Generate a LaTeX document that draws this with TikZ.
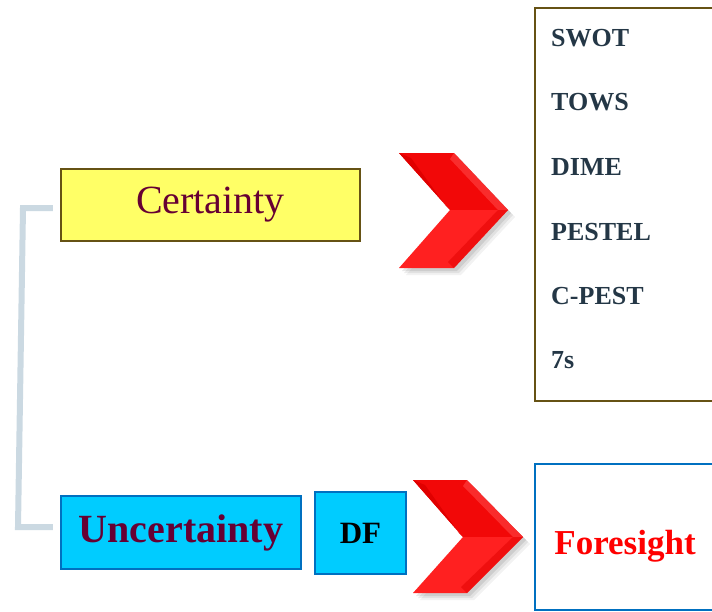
\documentclass[tikz,border=0pt]{standalone}
\usepackage{fontspec}
\setmainfont{Liberation Serif}
\begin{document}
\begin{tikzpicture}[x=1pt,y=-1pt,
  box/.style={draw,rectangle,inner sep=0pt,line width=2.2pt},
  listitem/.style={anchor=west,inner sep=0pt,text=slate,font=\fontsize{26}{30}\selectfont\bfseries},
  bracket/.style={draw=bracketgray,line width=6pt,line join=miter}]
\definecolor{maroon}{HTML}{660033}
\definecolor{slate}{HTML}{243746}
\definecolor{boxbrown}{HTML}{665214}
\definecolor{boxblue}{HTML}{0070C0}
\definecolor{cyanfill}{HTML}{00CCFF}
\definecolor{yellowfill}{HTML}{FFFF66}
\definecolor{bracketgray}{HTML}{CBD9E2}
\definecolor{chevdark}{HTML}{E00000}
\definecolor{chevmid}{HTML}{F20808}
\definecolor{chevlight}{HTML}{FF2020}
\definecolor{chevhigh}{HTML}{FF4545}

\useasboundingbox (0,0) rectangle (712,611);
\clip (0,0) rectangle (712,611);

% left-hand choice boxes
\node[box,draw=boxbrown,fill=yellowfill,minimum width=299,minimum height=72,
      text=maroon,font=\fontsize{40}{46}\selectfont] (cert) at (210.5,205) {Certainty};
\node[box,draw=boxblue,fill=cyanfill,minimum width=240,minimum height=73,
      text=maroon,font=\fontsize{40}{46}\selectfont\bfseries] (unc) at (181,532.5) {Uncertainty};
\node[box,draw=boxblue,fill=cyanfill,minimum width=91,minimum height=82,
      font=\fontsize{31}{36}\selectfont\bfseries] (df) at (360.5,533) {DF};

% bracket joining the two choices
\coordinate (bt) at (23,208);
\coordinate (bb) at (18,527);
\draw[bracket] ([xshift=-7pt]cert.west |- bt) -- (bt) -- (bb) -- ([xshift=-7pt]unc.west |- bb);

% list of tools
\node[box,draw=boxbrown,line width=1.8pt,minimum width=200,minimum height=393] (tools) at (635,204.5) {};
\node[listitem] (swot)  at (551,38)  {SWOT};
\node[listitem] (tows)  at (551,102) {TOWS};
\node[listitem] (dime)  at (551,167) {DIME};
\node[listitem] (pestel) at (551,232) {PESTEL};
\node[listitem] (cpest) at (551,296) {C-PEST};
\node[listitem] (seven) at (551,360) {7s};

% outcome box
\node[box,draw=boxblue,line width=1.8pt,minimum width=200,minimum height=146] (fore) at (635,537) {};
\node[inner sep=0pt,text=red,font=\fontsize{35}{40}\selectfont\bfseries] (foretext) at (625,546) {Foresight};

% chevron arrows: soft shadow, two arms, bevel facets
\newcommand{\chevron}[6]{% left x, top y, outer corner x, tip x, tip y, bottom y
  \foreach \s/\o in {7/0.05,5/0.07,3/0.09}{
    \fill[black,opacity=\o] (#1+\s,#2+\s) -- (#3+\s,#2+\s) -- (#4+\s,#5+\s) -- (#3+\s,#6+\s) -- (#1+\s,#6+\s) -- (#3-4+\s,#5+\s) -- cycle;}
  \fill[chevmid] (#1,#2) -- (#3,#2) -- (#4,#5) -- (#3-4,#5) -- cycle;
  \fill[chevlight] (#3-4,#5) -- (#4,#5) -- (#3,#6) -- (#1,#6) -- cycle;
  % darker bevel along the inner edge of the upper arm
  \fill[chevdark] (#1,#2) -- (#1+12,#2+5) -- (#3-8,#5-4) -- (#3-4,#5) -- cycle;
  % lighter bevel on the upper outer edge
  \fill[chevhigh,opacity=0.6] (#3,#2) -- (#4,#5) -- (#4-10,#5) -- (#3-4,#2+6) -- cycle;
  % lower arm: slightly darker bevel near the tip
  \fill[chevdark,opacity=0.5] (#4,#5) -- (#3,#6) -- (#3-6,#6-6) -- (#4-10,#5) -- cycle;
}
\chevron{399}{153}{454}{508}{210}{268}
\chevron{413}{480}{467}{523}{537}{593}
\end{tikzpicture}
\end{document}
